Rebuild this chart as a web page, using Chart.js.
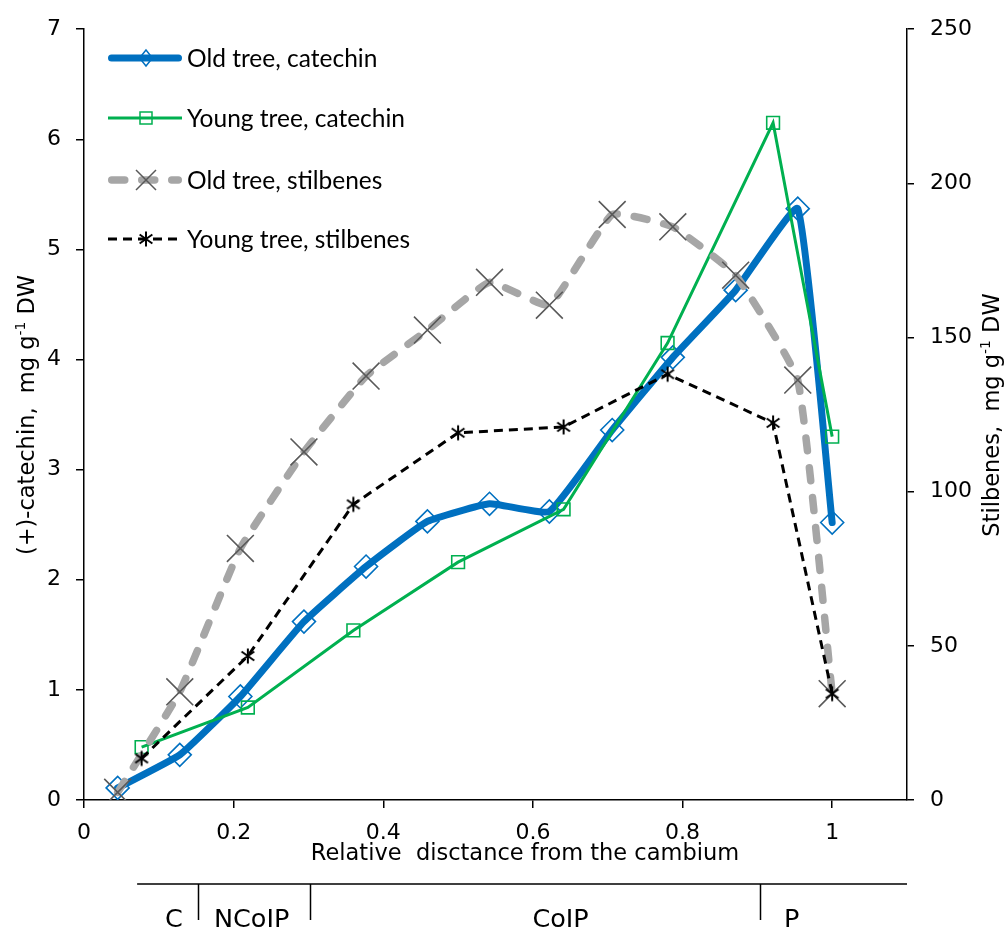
<!DOCTYPE html>
<html>
<head>
<meta charset="utf-8">
<script src="https://cdn.jsdelivr.net/npm/chart.js@4.4.1/dist/chart.umd.min.js"></script>
<style>
  html, body { margin:0; padding:0; background:#fff; }
  canvas { display:block; }
</style>
</head>
<body>
<canvas id="chart" width="1006" height="929"></canvas>
<script>
// relative distance from the cambium
const xOld = [0.045, 0.128, 0.209, 0.294, 0.377, 0.459, 0.542, 0.622, 0.706, 0.787, 0.871, 0.954, 1.0];
const xYoung = [0.077, 0.219, 0.36, 0.5, 0.641, 0.78, 0.921, 1.0];

// (+)-catechin, mg/g DW (left axis)
const oldCatechin = [0.11, 0.41, 0.94, 1.62, 2.12, 2.53, 2.69, 2.62, 3.36, 4.02, 4.63, 5.37, 2.52];
const youngCatechin = [0.48, 0.84, 1.54, 2.16, 2.64, 4.15, 6.15, 3.30];

// stilbenes, mg/g DW (right axis)
const oldStilbenes = [2.5, 35.1, 81.6, 112.9, 137.5, 152.4, 167.9, 160.5, 189.9, 185.9, 170.2, 136.2, 34.5];
const youngStilbenes = [13.5, 46.7, 95.9, 119.1, 121.0, 138.1, 122.3, 34.5];

const seriesNames = ["Old tree, catechin", "Young tree, catechin", "Old tree, stilbenes", "Young tree, stilbenes"];
const xTickValues = [0, 0.2, 0.4, 0.6, 0.8, 1];

// tissue zones under the x axis
const zoneBounds = [0.071, 0.152, 0.302, 0.904, 1.1];
const zoneLabels = ["C", "NCoIP", "CoIP", "P"];
const zoneLabelAt = [0.12, 0.224, 0.637, 0.946];

const BLUE = "#0070C0", GREEN = "#00B050", GREY = "#A6A6A6", DARK = "#595959";
const AXIS_FONT = '"DejaVu Sans", sans-serif';
const LEGEND_FONT = 'Lato, "Open Sans", sans-serif';

function starImage(size, color, lw) {
  const c = document.createElement("canvas");
  c.width = c.height = size;
  const g = c.getContext("2d");
  const m = size / 2, r = size / 2 - 1.5;
  g.strokeStyle = color;
  g.lineWidth = lw;
  g.beginPath();
  g.moveTo(m, m - r); g.lineTo(m, m + r);
  g.moveTo(m - r * 0.85, m - r * 0.6); g.lineTo(m + r * 0.85, m + r * 0.6);
  g.moveTo(m - r * 0.85, m + r * 0.6); g.lineTo(m + r * 0.85, m - r * 0.6);
  g.stroke();
  return c;
}
const star = starImage(18, "#000", 2);

const pts = (xs, ys) => xs.map((x, i) => ({ x, y: ys[i] }));

function drawMarker(ctx, kind, x, y) {
  ctx.save();
  ctx.setLineDash([]);
  if (kind === "diamond") {
    const r = 8;
    ctx.strokeStyle = BLUE; ctx.lineWidth = 1.5;
    ctx.beginPath();
    ctx.moveTo(x, y - r); ctx.lineTo(x + r * 0.8, y); ctx.lineTo(x, y + r); ctx.lineTo(x - r * 0.8, y);
    ctx.closePath(); ctx.stroke();
  } else if (kind === "square") {
    ctx.strokeStyle = GREEN; ctx.lineWidth = 1.5;
    ctx.strokeRect(x - 6, y - 6, 12, 12);
  } else if (kind === "x") {
    const r = 10;
    ctx.strokeStyle = DARK; ctx.lineWidth = 1.5;
    ctx.beginPath();
    ctx.moveTo(x - r, y - r); ctx.lineTo(x + r, y + r);
    ctx.moveTo(x - r, y + r); ctx.lineTo(x + r, y - r);
    ctx.stroke();
  } else {
    ctx.drawImage(star, x - star.width / 2, y - star.height / 2);
  }
  ctx.restore();
}

function drawSupText(ctx, parts, size) {
  // parts: [text, isSup]; drawn centred on the origin, alphabetic baseline
  const widths = parts.map(([t, sup]) => {
    ctx.font = (sup ? size * 0.62 : size) + "px " + AXIS_FONT;
    return ctx.measureText(t).width;
  });
  let x = -widths.reduce((a, b) => a + b, 0) / 2;
  parts.forEach(([t, sup], i) => {
    ctx.font = (sup ? size * 0.62 : size) + "px " + AXIS_FONT;
    ctx.fillText(t, x, sup ? -size * 0.42 : 0);
    x += widths[i];
  });
}

const extras = {
  id: "extras",
  afterDraw(chart) {
    const ctx = chart.ctx;
    const xs = chart.scales.x;
    ctx.save();
    ctx.fillStyle = "#000";
    ctx.textBaseline = "alphabetic";
    ctx.textAlign = "left";

    // x title
    ctx.font = "22.5px " + AXIS_FONT;
    ctx.textAlign = "center";
    ctx.fillText("Relative  disctance from the cambium", 525, 860);

    // left title
    ctx.textAlign = "left";
    ctx.save();
    ctx.translate(34, 415);
    ctx.rotate(-Math.PI / 2);
    drawSupText(ctx, [["(+)-catechin,  mg g", false], ["-1", true], [" DW", false]], 22.5);
    ctx.restore();

    // right title
    ctx.save();
    ctx.translate(999, 415);
    ctx.rotate(-Math.PI / 2);
    drawSupText(ctx, [["Stilbenes,  mg g", false], ["-1", true], [" DW", false]], 22.5);
    ctx.restore();

    // zone bracket
    ctx.strokeStyle = "#000";
    ctx.lineWidth = 1.5;
    const yLine = 884;
    ctx.beginPath();
    ctx.moveTo(xs.getPixelForValue(zoneBounds[0]), yLine);
    ctx.lineTo(xs.getPixelForValue(zoneBounds[zoneBounds.length - 1]), yLine);
    zoneBounds.slice(1, -1).forEach(b => {
      const px = Math.round(xs.getPixelForValue(b)) + 0.5;
      ctx.moveTo(px, yLine);
      ctx.lineTo(px, 920);
    });
    ctx.stroke();
    ctx.font = "25.5px " + AXIS_FONT;
    ctx.textAlign = "center";
    zoneLabels.forEach((lab, i) => {
      ctx.fillText(lab, xs.getPixelForValue(zoneLabelAt[i]), 927);
    });

    // legend
    const legendRows = [
      { y: 58, color: BLUE, width: 7, dash: [], cap: "round", marker: "diamond" },
      { y: 118, color: GREEN, width: 3, dash: [], cap: "butt", marker: "square" },
      { y: 180, color: GREY, width: 7.5, dash: [13, 17], cap: "round", marker: "x" },
      { y: 239, color: "#000", width: 3, dash: [9, 6], cap: "butt", marker: "star" }
    ];
    legendRows.forEach((row, i) => {
      ctx.save();
      ctx.strokeStyle = row.color;
      ctx.lineWidth = row.width;
      ctx.lineCap = row.cap;
      ctx.setLineDash(row.dash);
      const x0 = row.cap === "round" ? 108 + row.width / 2 : 108;
      const x1 = row.cap === "round" ? 182 - row.width / 2 : 182;
      ctx.beginPath();
      ctx.moveTo(x0, row.y);
      ctx.lineTo(x1, row.y);
      ctx.stroke();
      ctx.restore();
      drawMarker(ctx, row.marker, 146, row.y);
      ctx.font = "24.5px " + LEGEND_FONT;
      ctx.textAlign = "left";
      ctx.textBaseline = "middle";
      ctx.fillStyle = "#000";
      ctx.fillText(seriesNames[i], 187, row.y + 1);
    });
    ctx.restore();
  }
};

const axisGrid = { display: true, drawOnChartArea: false, drawTicks: true, tickLength: 8, color: "#000", lineWidth: 1.5 };
const axisBorder = { display: true, color: "#000", width: 1.5 };
const tickFont = { family: AXIS_FONT, size: 22 };

new Chart(document.getElementById("chart"), {
  type: "line",
  data: {
    datasets: [
      {
        label: seriesNames[0], data: pts(xOld, oldCatechin), yAxisID: "y", order: 4,
        borderColor: BLUE, borderWidth: 7, tension: 0.12, borderCapStyle: "round", borderJoinStyle: "round",
        pointStyle: "rectRot", pointRadius: 11.5, pointBorderWidth: 1.6,
        pointBorderColor: BLUE, pointBackgroundColor: "rgba(0,0,0,0)"
      },
      {
        label: seriesNames[1], data: pts(xYoung, youngCatechin), yAxisID: "y", order: 3,
        borderColor: GREEN, borderWidth: 3, tension: 0,
        pointStyle: "rect", pointRadius: 9, pointBorderWidth: 1.6,
        pointBorderColor: GREEN, pointBackgroundColor: "rgba(0,0,0,0)"
      },
      {
        label: seriesNames[2], data: pts(xOld, oldStilbenes), yAxisID: "y2", order: 2,
        borderColor: GREY, borderWidth: 7.5, borderDash: [13, 17], borderCapStyle: "round", tension: 0.12,
        pointStyle: "crossRot", pointRadius: 19, pointBorderWidth: 1.6,
        pointBorderColor: DARK, pointBackgroundColor: DARK
      },
      {
        label: seriesNames[3], data: pts(xYoung, youngStilbenes), yAxisID: "y2", order: 1,
        borderColor: "#000", borderWidth: 3, borderDash: [9, 6], tension: 0,
        pointStyle: star, pointRadius: 8
      }
    ]
  },
  options: {
    responsive: false,
    animation: false,
    events: [],
    layout: { padding: { top: 29, left: 0, right: 0, bottom: 0 } },
    plugins: { legend: { display: false }, tooltip: { enabled: false } },
    scales: {
      x: {
        type: "linear", position: "bottom", min: 0, max: 1.1,
        grid: axisGrid, border: axisBorder,
        afterBuildTicks: (s) => { s.ticks = xTickValues.map(v => ({ value: v })); },
        afterFit: (s) => { s.height = 129; },
        ticks: { color: "#000", font: tickFont, padding: 12, maxRotation: 0,
                 callback: (v) => String(Math.round(v * 10) / 10) }
      },
      y: {
        position: "left", min: 0, max: 7,
        grid: axisGrid, border: axisBorder,
        afterFit: (s) => { s.width = 84; },
        ticks: { color: "#000", font: tickFont, padding: 15, stepSize: 1 }
      },
      y2: {
        position: "right", min: 0, max: 250,
        grid: Object.assign({}, axisGrid, { tickLength: 7 }), border: axisBorder,
        afterFit: (s) => { s.width = 99; },
        ticks: { color: "#000", font: tickFont, padding: 16, stepSize: 50 }
      }
    }
  },
  plugins: [extras]
});
</script>
</body>
</html>
